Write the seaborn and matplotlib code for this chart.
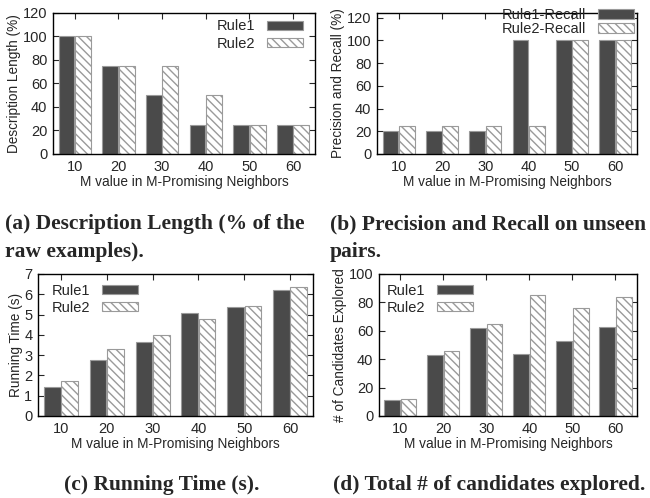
import matplotlib
matplotlib.use("Agg")
import matplotlib.pyplot as plt
import seaborn as sns
import pandas as pd

sns.set_style("ticks")
plt.rcParams['font.family'] = ['Liberation Sans', 'DejaVu Sans']
plt.rcParams['hatch.linewidth'] = 1.0

m_values = ["10", "20", "30", "40", "50", "60"]

desc_rule1 = [100, 75, 50, 25, 25, 25]
desc_rule2 = [100, 75, 75, 50, 25, 25]

prec_rule1 = [20, 20, 20, 100, 100, 100]
prec_rule2 = [25, 25, 25, 25, 100, 100]

time_rule1 = [1.45, 2.75, 3.65, 5.08, 5.35, 6.2]
time_rule2 = [1.7, 3.28, 3.98, 4.8, 5.43, 6.37]

cand_rule1 = [11, 43, 62, 44, 53, 63]
cand_rule2 = [12, 46, 65, 85, 76, 84]

xlabel = "M value in M-Promising Neighbors"

DARK = "#4a4a4a"
EDGE = "#9a9a9a"
FS = 9.8

fig = plt.figure(figsize=(6.5, 4.98), dpi=100)

def panel(rect, r1, r2, labels, ylabel, ylim, yticks, legend_loc, legend_anchor, labelspacing):
    ax = fig.add_axes(rect)
    df = pd.DataFrame({
        "M": m_values * 2,
        "val": list(r1) + list(r2),
        "Rule": [labels[0]] * 6 + [labels[1]] * 6,
    })
    sns.barplot(data=df, x="M", y="val", hue="Rule", order=m_values,
                hue_order=labels, palette=[DARK, "white"], width=0.76,
                gap=0.04, ax=ax, legend=False, saturation=1)
    for p in ax.containers[0]:
        p.set_facecolor(DARK)
        p.set_edgecolor(EDGE)
        p.set_linewidth(0.8)
    for p in ax.containers[1]:
        p.set_facecolor("white")
        p.set_edgecolor(EDGE)
        p.set_hatch("\\\\\\\\")
        p.set_linewidth(0.8)
    ax.set_xlim(-0.5, 5.5)
    ax.set_ylim(*ylim)
    ax.set_yticks(yticks)
    ax.set_xlabel(xlabel, fontsize=FS, labelpad=1)
    ax.set_ylabel(ylabel, fontsize=FS, labelpad=1)
    ax.tick_params(axis="both", direction="in", length=4, width=0.8,
                   labelsize=FS + 0.7, top=True, right=True, pad=4)
    for s in ax.spines.values():
        s.set_visible(True)
        s.set_linewidth(1.0)
        s.set_color("black")
    ax.legend(handles=[ax.containers[0][0], ax.containers[1][0]],
              labels=list(labels), loc=legend_loc,
              bbox_to_anchor=legend_anchor, frameon=False, markerfirst=False,
              fontsize=FS + 0.7, handlelength=2.5, handleheight=0.6,
              handletextpad=0.8, labelspacing=labelspacing, borderpad=0,
              borderaxespad=0)
    return ax

panel([0.0815, 0.6908, 0.4031, 0.2831], desc_rule1, desc_rule2,
      ("Rule1", "Rule2"), "Description Length (%)", (0, 120),
      [0, 20, 40, 60, 80, 100, 120], "upper right", (0.955, 0.955), 0.25)
panel([0.580, 0.6908, 0.400, 0.2831], prec_rule1, prec_rule2,
      ("Rule1-Recall", "Rule2-Recall"), "Precision and Recall (%)", (0, 124),
      [0, 20, 40, 60, 80, 100, 120], "upper right", (0.99, 1.035), 0.0)
panel([0.0585, 0.1647, 0.4230, 0.2851], time_rule1, time_rule2,
      ("Rule1", "Rule2"), "Running Time (s)", (0, 7),
      [0, 1, 2, 3, 4, 5, 6, 7], "upper left", (0.05, 0.93), 0.2)
panel([0.583, 0.1647, 0.397, 0.2851], cand_rule1, cand_rule2,
      ("Rule1", "Rule2"), "# of Candidates Explored", (0, 100),
      [0, 20, 40, 60, 80, 100], "upper left", (0.03, 0.93), 0.2)

cap = dict(fontsize=15.5, fontweight="bold", family=["Liberation Serif"],
           va="baseline")
fig.text(5 / 650, 1 - 229 / 498, "(a) Description Length (% of the", ha="left", **cap)
fig.text(5 / 650, 1 - 257 / 498, "raw examples).", ha="left", **cap)
fig.text(330 / 650, 1 - 229 / 498, "(b) Precision and Recall on unseen", ha="left", **cap)
fig.text(330 / 650, 1 - 257 / 498, "pairs.", ha="left", **cap)
fig.text(162 / 650, 1 - 490 / 498, "(c) Running Time (s).", ha="center", **cap)
fig.text(489 / 650, 1 - 490 / 498, "(d) Total # of candidates explored.", ha="center", **cap)

fig.savefig("out.png", dpi=100)
